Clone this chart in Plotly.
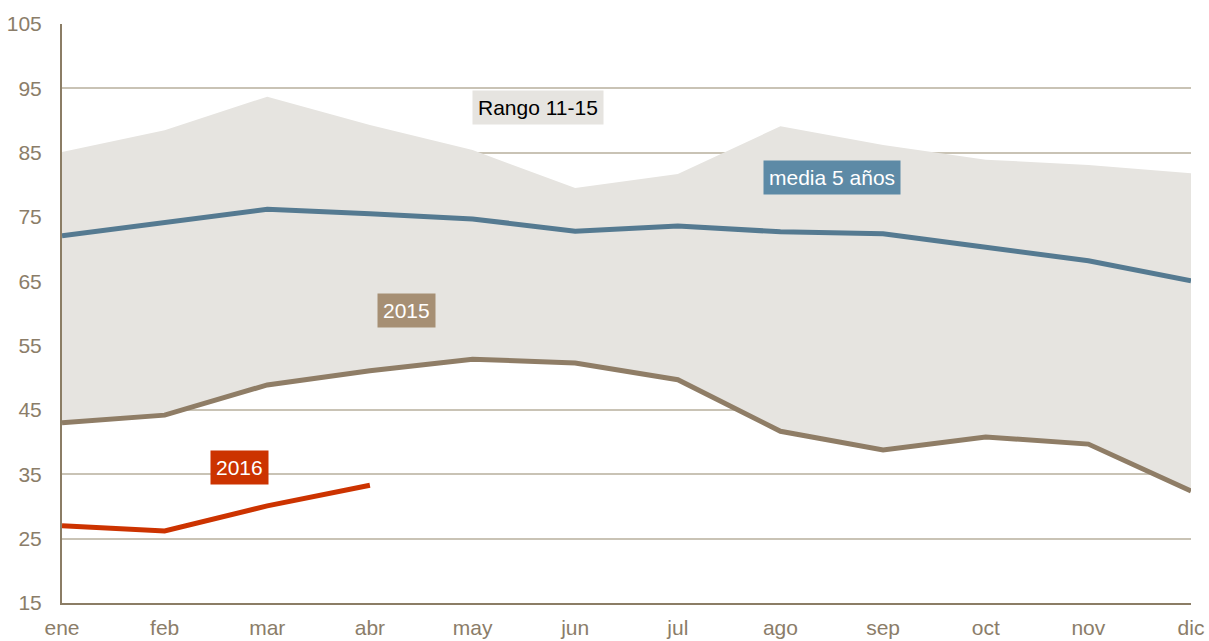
import plotly.graph_objects as go

months = ["ene", "feb", "mar", "abr", "may", "jun", "jul", "ago", "sep", "oct", "nov", "dic"]
rango_max = [85.1, 88.5, 93.7, 89.3, 85.4, 79.5, 81.7, 89.1, 86.2, 83.9, 83.1, 81.8]
rango_min = [43.0, 44.2, 48.9, 51.1, 52.9, 52.3, 49.7, 41.7, 38.8, 40.8, 39.7, 32.4]
media5 = [72.1, 74.1, 76.2, 75.5, 74.7, 72.8, 73.6, 72.7, 72.4, 70.3, 68.2, 65.1]
y2015 = [43.0, 44.2, 48.9, 51.1, 52.9, 52.3, 49.7, 41.7, 38.8, 40.8, 39.7, 32.4]
y2016 = [27.0, 26.2, 30.1, 33.3]
y_ticks = [15, 25, 35, 45, 55, 65, 75, 85, 95, 105]

FONT = "Liberation Sans, Arial, sans-serif"
TICK = "#8b7d69"
FS = 21

fig = go.Figure()
fig.add_trace(go.Scatter(x=months, y=rango_min, mode="lines", line=dict(width=0, color="#e6e4e0"),
                         hoverinfo="skip", showlegend=False))
fig.add_trace(go.Scatter(x=months, y=rango_max, mode="lines", line=dict(width=0, color="#e6e4e0"),
                         fill="tonexty", fillcolor="#e6e4e0", name="Rango 11-15", showlegend=False))
fig.add_trace(go.Scatter(x=months, y=media5, mode="lines", line=dict(width=5, color="#557a91"),
                         name="media 5 años", showlegend=False))
fig.add_trace(go.Scatter(x=months, y=y2015, mode="lines", line=dict(width=5, color="#8f7d66"),
                         name="2015", showlegend=False))
fig.add_trace(go.Scatter(x=months[:len(y2016)], y=y2016, mode="lines", line=dict(width=5, color="#cc3300"),
                         name="2016", showlegend=False))

def label(text, x, y, bg, fg):
    fig.add_annotation(x=x, y=y, xref="x", yref="y", text=text, showarrow=False,
                       font=dict(family=FONT, size=FS, color=fg), bgcolor=bg, borderpad=5)

label("Rango 11-15", 4.64, 92.0, "#e6e4e0", "#000000")
label("media 5 años", 7.5, 81.1, "#5d8aa6", "#ffffff")
label("2015", 3.36, 60.4, "#a68f74", "#ffffff")
label("2016", 1.73, 36.1, "#cc3300", "#ffffff")

fig.update_layout(
    width=1209, height=641,
    margin=dict(l=62, r=18, t=24, b=38),
    paper_bgcolor="white", plot_bgcolor="white",
    font=dict(family=FONT, size=FS, color=TICK),
    xaxis=dict(type="category", range=[0, 11], showgrid=False, ticks="", automargin=False,
               showline=True, linecolor="#8b7d65", linewidth=2, ticklabelstandoff=5,
               tickfont=dict(family=FONT, size=FS, color=TICK)),
    yaxis=dict(range=[15, 105], tickvals=y_ticks, showgrid=True, gridcolor="#c9c3b5", gridwidth=1.5,
               zeroline=False, showline=True, linecolor="#8b7d65", linewidth=2, ticks="",
               ticklabelstandoff=14, automargin=False,
               tickfont=dict(family=FONT, size=FS, color=TICK)),
)

fig.write_html("out.html", config={"displayModeBar": False},
               post_script="document.body.style.margin='0';document.body.style.overflow='hidden';")
